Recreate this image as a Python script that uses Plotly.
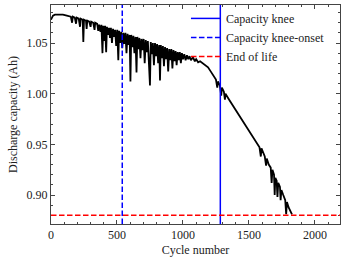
import plotly.graph_objects as go

# Discharge capacity curve
cycles = [0, 5, 15, 30, 60, 90, 120, 150, 160, 165, 180, 190, 195, 210, 220, 225, 240, 245, 250,
          265, 270, 275, 290, 300, 305, 320, 330, 335, 350, 358, 365, 375, 382, 390, 396, 404, 410,
          418, 424, 432, 440, 447, 454, 462, 470, 478, 486, 494, 502, 510, 516, 524, 532, 540, 548,
          556, 564, 572, 580, 588, 596, 602, 608, 616, 624, 632, 640, 648, 654, 662, 670, 678, 686,
          694, 702, 710, 718, 726, 734, 742, 750, 756, 764, 772, 780, 788, 796, 804, 812, 820, 826,
          832, 840, 848, 856, 864, 872, 880, 888, 896, 904, 912, 920, 928, 936, 944, 952, 960, 968,
          976, 984, 992, 1000, 1010, 1020, 1030, 1040, 1050, 1060, 1075, 1090, 1100, 1115, 1130,
          1150, 1170, 1190, 1210, 1230, 1250, 1260, 1265, 1280, 1290, 1295, 1310, 1318, 1322, 1350,
          1400, 1450, 1500, 1550, 1580, 1590, 1595, 1620, 1630, 1635, 1650, 1665, 1672, 1678, 1690,
          1695, 1700, 1710, 1716, 1722, 1735, 1740, 1746, 1760, 1775, 1782, 1788, 1800, 1812, 1826]
capacity = [1.073, 1.075, 1.077, 1.078, 1.078, 1.078, 1.077, 1.076, 1.070, 1.076, 1.075, 1.069,
            1.075, 1.074, 1.066, 1.074, 1.073, 1.051, 1.073, 1.072, 1.064, 1.072, 1.071, 1.066,
            1.071, 1.070, 1.063, 1.070, 1.069, 1.062, 1.068, 1.061, 1.068, 1.040, 1.067, 1.052,
            1.067, 1.041, 1.066, 1.058, 1.065, 1.055, 1.065, 1.050, 1.064, 1.056, 1.063, 1.047,
            1.063, 1.033, 1.062, 1.050, 1.061, 1.045, 1.060, 1.049, 1.060, 1.040, 1.059, 1.048,
            1.058, 1.012, 1.058, 1.046, 1.057, 1.040, 1.056, 1.021, 1.056, 1.044, 1.055, 1.035,
            1.054, 1.043, 1.054, 1.030, 1.053, 1.041, 1.052, 1.033, 1.008, 1.051, 1.039, 1.050,
            1.028, 1.050, 1.037, 1.049, 1.030, 1.048, 1.013, 1.048, 1.035, 1.047, 1.027, 1.046,
            1.034, 1.045, 1.022, 1.044, 1.033, 1.044, 1.025, 1.043, 1.032, 1.042, 1.028, 1.041,
            1.033, 1.041, 1.030, 1.040, 1.034, 1.039, 1.033, 1.038, 1.034, 1.037, 1.033, 1.036,
            1.032, 1.034, 1.031, 1.032, 1.030, 1.028, 1.026, 1.022, 1.018, 1.014, 1.006, 1.012,
            1.008, 0.998, 1.006, 1.002, 0.994, 1.000, 0.994, 0.984, 0.974, 0.964, 0.953, 0.947,
            0.938, 0.946, 0.938, 0.929, 0.936, 0.930, 0.927, 0.912, 0.925, 0.920, 0.900, 0.917,
            0.914, 0.898, 0.912, 0.908, 0.895, 0.905, 0.900, 0.895, 0.881, 0.893, 0.888, 0.884,
            0.881]

knee_cycle = 1283
knee_onset_cycle = 540
end_of_life = 0.88

x_range = [0, 2190]
y_range = [0.8714, 1.0875]
x_ticks = [0, 500, 1000, 1500, 2000]
y_ticks = [0.90, 0.95, 1.00, 1.05]
y_tick_labels = ["0.90", "0.95", "1.00", "1.05"]

FONT = "Liberation Serif, Times New Roman, serif"
TXT = "#222"

fig = go.Figure()
fig.add_trace(go.Scatter(x=cycles, y=capacity, mode="lines",
                         line=dict(color="black", width=1.8), showlegend=False))

fig.add_vline(x=knee_cycle, line=dict(color="#0000ff", width=1.5),
              showlegend=True, name="Capacity knee", layer="above")
fig.add_vline(x=knee_onset_cycle, line=dict(color="#0000ff", width=1.5, dash="5.5px,2.5px"),
              showlegend=True, name="Capacity knee-onset", layer="above")
fig.add_hline(y=end_of_life, line=dict(color="#ff0000", width=1.5, dash="5.5px,2.5px"),
              showlegend=True, name="End of life", layer="above")

axis_common = dict(showgrid=False, zeroline=False, showline=True, linecolor="#444",
                   linewidth=1, mirror="allticks", ticks="inside", ticklen=4,
                   tickcolor="#444", tickwidth=1, automargin=False,
                   tickfont=dict(family=FONT, size=12, color=TXT))

fig.update_xaxes(range=x_range, tickvals=x_ticks,
                 title=dict(text="Cycle number", font=dict(family=FONT, size=12, color=TXT),
                            standoff=4),
                 minor=dict(ticks="inside", dtick=100, ticklen=2, tickcolor="#444"),
                 **axis_common)
fig.update_yaxes(range=y_range, tickvals=y_ticks, ticktext=y_tick_labels,
                 title=dict(text="Discharge capacity (Ah)",
                            font=dict(family=FONT, size=12, color=TXT), standoff=6),
                 minor=dict(ticks="inside", dtick=0.01, tick0=0.9, ticklen=2, tickcolor="#444"),
                 **axis_common)

fig.update_layout(
    width=346, height=264,
    margin=dict(l=51, r=6, t=5, b=40, autoexpand=False),
    paper_bgcolor="white", plot_bgcolor="white",
    font=dict(family=FONT, size=12, color=TXT),
    legend=dict(x=0.467, y=1.005, xanchor="left", yanchor="top",
                bgcolor="rgba(0,0,0,0)", borderwidth=0,
                font=dict(family=FONT, size=12, color=TXT),
                tracegroupgap=0),
)

fig.write_html("out.html", config={"displayModeBar": False},
               post_script="document.body.style.margin='0px';")
